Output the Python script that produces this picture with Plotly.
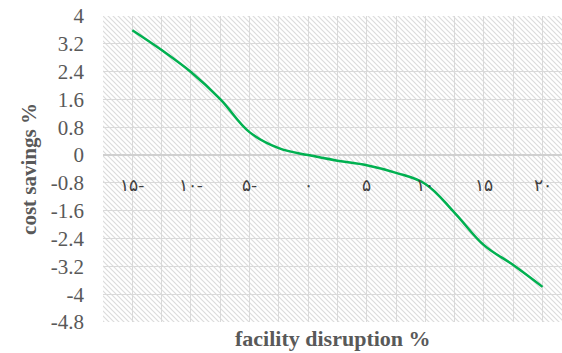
import base64
import plotly.graph_objects as go

# Sensitivity of cost savings to facility disruption
disruption = [-15, -12.5, -10, -7.5, -5, -2.5, 0, 2.5, 5, 7.5, 10, 12.5, 15, 17.5, 20]
savings = [3.59, 3.02, 2.39, 1.61, 0.66, 0.20, 0.0, -0.16, -0.29, -0.51, -0.83, -1.66, -2.59, -3.16, -3.79]

x_tick_vals = [-15, -10, -5, 0, 5, 10, 15, 20]
x_tick_text = ["۱۵-", "۱۰-", "۵-", "۰", "۵", "۱۰", "۱۵", "۲۰"]

y_tick_vals = [4, 3.2, 2.4, 1.6, 0.8, 0, -0.8, -1.6, -2.4, -3.2, -4, -4.8]
y_tick_text = ["4", "3.2", "2.4", "1.6", "0.8", "0", "-0.8", "-1.6", "-2.4", "-3.2", "-4", "-4.8"]

X_RANGE = [-17.5, 21.66]
Y_RANGE = [-4.8, 4]

SERIF = "Liberation Serif"
GRID = "#d9d9d9"

# diagonal hatch texture for the plot area
hatch_svg = (
    '<svg xmlns="http://www.w3.org/2000/svg" width="459" height="306" '
    'preserveAspectRatio="none">'
    '<defs><pattern id="h" patternUnits="userSpaceOnUse" width="5" height="5">'
    '<path d="M0,0 L5,5 M-1,4 L1,6 M4,-1 L6,1" stroke="#dcdcdc" stroke-width="1.2"/>'
    '</pattern></defs>'
    '<rect width="459" height="306" fill="url(#h)"/></svg>'
)
hatch_uri = "data:image/svg+xml;base64," + base64.b64encode(hatch_svg.encode()).decode()

fig = go.Figure()

fig.add_trace(go.Scatter(
    x=disruption, y=savings, mode="lines",
    line=dict(color="#00b050", width=2.5, shape="spline", smoothing=1.1),
    showlegend=False,
))

y0_frac = (0 - Y_RANGE[0]) / (Y_RANGE[1] - Y_RANGE[0])

fig.update_layout(
    width=562, height=353,
    margin=dict(l=103, r=0, t=16, b=31),
    paper_bgcolor="white", plot_bgcolor="white",
    font=dict(family=SERIF, color="#595959"),
    images=[dict(
        source=hatch_uri, xref="paper", yref="paper", x=0, y=1,
        sizex=1, sizey=1, sizing="stretch", xanchor="left", yanchor="top",
        layer="below",
    )],
    xaxis=dict(
        range=X_RANGE, anchor="free", position=y0_frac,
        tickvals=x_tick_vals, ticktext=x_tick_text,
        tickfont=dict(family=SERIF, size=17, color="#404040"),
        ticks="", ticklabelstandoff=18,
        showgrid=True, gridcolor=GRID, gridwidth=1,
        minor=dict(dtick=2.5, tick0=-17.5, showgrid=True, gridcolor=GRID, gridwidth=1),
        showline=False, zeroline=False,
    ),
    yaxis=dict(
        range=Y_RANGE, tickvals=y_tick_vals, ticktext=y_tick_text,
        tickfont=dict(family=SERIF, size=21, color="#595959"),
        ticks="", ticklabelstandoff=18,
        showgrid=True, gridcolor=GRID, gridwidth=1,
        zeroline=True, zerolinecolor="#d0d0d0", zerolinewidth=2,
        showline=False,
        title=dict(text="<b>cost savings %</b>",
                   font=dict(family=SERIF, size=21, color="#595959"), standoff=8),
    ),
    annotations=[dict(
        text="<b>facility disruption %</b>", xref="paper", yref="paper",
        x=0.5, y=0, yshift=-16, yanchor="middle", showarrow=False,
        font=dict(family=SERIF, size=22, color="#595959"),
    )],
)

fig.write_html("out.html")
